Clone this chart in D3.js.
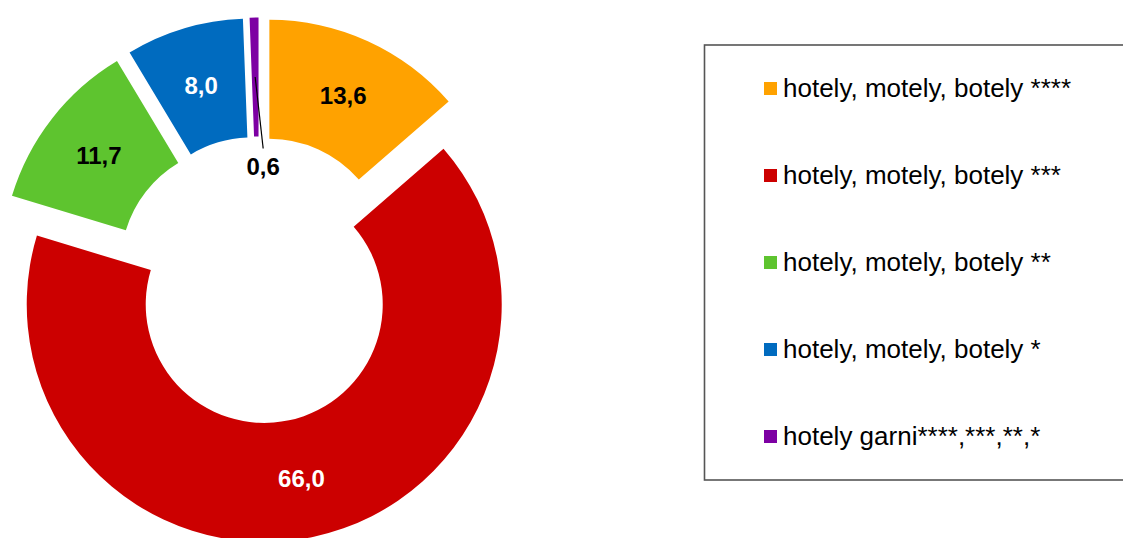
<!DOCTYPE html>
<html>
<head>
<meta charset="utf-8">
<script src="https://cdn.jsdelivr.net/npm/d3@7"></script>
<style>
  html, body { margin: 0; padding: 0; background: #fff; }
  svg { display: block; font-family: "Liberation Sans", Arial, sans-serif; }
</style>
</head>
<body>
<svg id="chart" width="1123" height="538"></svg>
<script>
// Categories, values and colours
const categories = [
  'hotely, motely, botely ****',
  'hotely, motely, botely ***',
  'hotely, motely, botely **',
  'hotely, motely, botely *',
  'hotely garni****,***,**,*'
];
const values = [13.6, 66.0, 11.7, 8.0, 0.6];
const colors = ['#ffa200', '#cc0000', '#5ec42f', '#006bbf', '#7d00a3'];
const labelColors = ['#000', '#fff', '#000', '#fff', '#000'];

const svg = d3.select('#chart');

// Donut geometry
const cx = 259, cy = 280;
const outerR = 237.5, innerR = 118.5;
const explode = 25;

const pie = d3.pie().sort(null).value(d => d);
const arcs = pie(values);
const arc = d3.arc().innerRadius(innerR).outerRadius(outerR);
const fmt = v => d3.format('.1f')(v).replace('.', ',');

const offset = d => {
  const a = (d.startAngle + d.endAngle) / 2;
  return [explode * Math.sin(a), -explode * Math.cos(a)];
};

const donut = svg.append('g').attr('transform', `translate(${cx},${cy})`);

const slice = donut.selectAll('g.slice')
  .data(arcs)
  .enter().append('g')
  .attr('class', 'slice')
  .attr('transform', d => `translate(${offset(d)})`);

slice.append('path')
  .attr('d', arc)
  .attr('fill', (d, i) => colors[i]);

// Labels at arc centroid, except the tiny slice which gets a leader line
slice.filter(d => d.value >= 1).append('text')
  .attr('transform', d => `translate(${arc.centroid(d)})`)
  .attr('text-anchor', 'middle')
  .attr('dy', '0.36em')
  .attr('font-size', 24)
  .attr('font-weight', 'bold')
  .attr('fill', d => labelColors[d.index])
  .text(d => fmt(d.value));

const small = slice.filter(d => d.value < 1);
small.append('line')
  .attr('x1', d => arc.centroid(d)[0])
  .attr('y1', d => arc.centroid(d)[1])
  .attr('x2', d => arc.centroid(d)[0] + 8)
  .attr('y2', d => -innerR + 12)
  .attr('stroke', '#000')
  .attr('stroke-width', 1.2);
small.append('text')
  .attr('x', d => arc.centroid(d)[0] + 8)
  .attr('y', d => -innerR + 38)
  .attr('text-anchor', 'middle')
  .attr('font-size', 24)
  .attr('font-weight', 'bold')
  .attr('fill', '#000')
  .text(d => fmt(d.value));

// Legend
const legend = svg.append('g');
legend.append('rect')
  .attr('x', 704.5)
  .attr('y', 45)
  .attr('width', 440)
  .attr('height', 435)
  .attr('fill', 'none')
  .attr('stroke', '#555')
  .attr('stroke-width', 1.6);

const rowY = d3.scalePoint().domain(categories).range([97, 445]);

const item = legend.selectAll('g.item')
  .data(categories)
  .enter().append('g')
  .attr('class', 'item')
  .attr('transform', d => `translate(0,${rowY(d)})`);

item.append('rect')
  .attr('x', 764)
  .attr('y', -15)
  .attr('width', 13)
  .attr('height', 13)
  .attr('fill', (d, i) => colors[i]);

item.append('text')
  .attr('x', 783)
  .attr('y', 0)
  .attr('font-size', 26)
  .attr('fill', '#000')
  .text(d => d);
</script>
</body>
</html>
